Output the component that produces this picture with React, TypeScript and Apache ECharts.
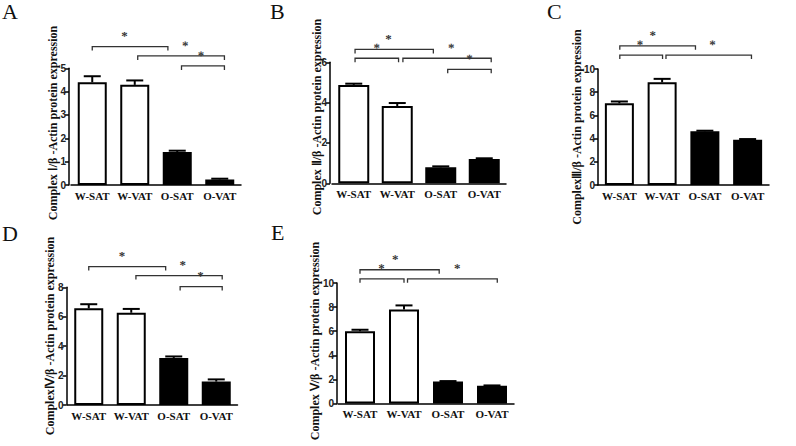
import React, { useEffect, useRef } from "react";
import * as echarts from "echarts";

const CATS = ["W-SAT", "W-VAT", "O-SAT", "O-VAT"];
const FILLS = ["#ffffff", "#ffffff", "#000000", "#000000"];

const A_MEAN = [4.4, 4.29, 1.41, 0.24];
const A_ERR = [4.66, 4.48, 1.47, 0.27];
const B_MEAN = [4.88, 3.83, 0.79, 1.21];
const B_ERR = [4.94, 3.98, 0.84, 1.24];
const C_MEAN = [7.04, 8.85, 4.63, 3.91];
const C_ERR = [7.2, 9.15, 4.68, 3.96];
const D_MEAN = [6.57, 6.27, 3.2, 1.59];
const D_ERR = [6.85, 6.53, 3.3, 1.74];
const E_MEAN = [6.0, 7.8, 1.82, 1.47];
const E_ERR = [6.12, 8.14, 1.86, 1.5];

// brackets: [fromCat, toCat, level, starCat]
const A_BR = [[0, 1.78, 5.93, 0.76], [1.07, 3.11, 5.53, 2.19], [2.1, 3.11, 5.1, 2.56]];
const B_BR = [[0.03, 1.83, 6.64, 0.8], [0.03, 1.03, 6.2, 0.53], [1.13, 3.16, 6.2, 2.24], [2.16, 3.16, 5.65, 2.66]];
const C_BR = [[0.01, 1.78, 12.0, 0.78], [0.01, 1.01, 11.2, 0.48], [1.09, 3.09, 11.2, 2.18]];
const D_BR = [[0, 1.81, 9.41, 0.78], [1.11, 3.14, 8.8, 2.21], [2.15, 3.14, 8.05, 2.63]];
const E_BR = [[0, 1.8, 11.1, 0.8], [0, 1.0, 10.35, 0.49], [1.08, 3.12, 10.35, 2.21]];

const Y_MAX = [5, 6, 10, 8, 10];
const Y_STEP = [1, 2, 2, 2, 2];
const LETTERS = ["A", "B", "C", "D", "E"];
const TITLES = [
  "Complex \u2160/\u03b2 -Actin protein expression",
  "Complex \u2161/\u03b2 -Actin protein expression",
  "Complex\u2162/\u03b2 -Actin protein expression",
  "Complex\u2163/\u03b2 -Actin protein expression",
  "Complex \u2164/\u03b2 -Actin protein expression",
];

const PANELS = [
  { mean: A_MEAN, err: A_ERR, br: A_BR, grid: { left: 71, top: 68.3, width: 170, height: 116.7 }, bw: 29, off: 2, letter: [2, 0], title: [53, 123] },
  { mean: B_MEAN, err: B_ERR, br: B_BR, grid: { left: 332, top: 62.3, width: 174, height: 121 }, bw: 31, off: 2, letter: [270, 0], title: [317, 117] },
  { mean: C_MEAN, err: C_ERR, br: C_BR, grid: { left: 598, top: 69, width: 171, height: 116 }, bw: 29, off: 0, letter: [547, 0], title: [577, 127] },
  { mean: D_MEAN, err: D_ERR, br: D_BR, grid: { left: 67.5, top: 287.3, width: 170, height: 117.7 }, bw: 29, off: 1, letter: [2, 222], title: [50, 336] },
  { mean: E_MEAN, err: E_ERR, br: E_BR, grid: { left: 338, top: 283, width: 176, height: 120.5 }, bw: 30, off: 1, letter: [271, 221], title: [315, 341] },
];

function buildOption() {
  const grid: any[] = [];
  const xAxis: any[] = [];
  const yAxis: any[] = [];
  const series: any[] = [];
  const graphic: any[] = [];

  PANELS.forEach((p, i) => {
    grid.push({ ...p.grid });
    xAxis.push({
      type: "category",
      gridIndex: i,
      data: CATS,
      axisLine: { lineStyle: { color: "#000", width: 1.5 } },
      axisTick: { show: false },
      axisLabel: {
        interval: 0,
        fontFamily: "Liberation Serif",
        fontWeight: "bold",
        fontSize: 11,
        color: "#111",
        margin: 5,
      },
    });
    yAxis.push({
      type: "value",
      gridIndex: i,
      min: 0,
      max: Y_MAX[i],
      interval: Y_STEP[i],
      offset: p.off,
      axisLine: { show: true, lineStyle: { color: "#000", width: 1.5 } },
      axisTick: { show: true, length: 4, lineStyle: { color: "#000", width: 1.5 } },
      splitLine: { show: false },
      axisLabel: {
        fontFamily: "Liberation Sans",
        fontWeight: "bold",
        fontSize: 10,
        color: "#222",
        margin: 3,
      },
    });
    series.push({
      type: "bar",
      xAxisIndex: i,
      yAxisIndex: i,
      barWidth: p.bw,
      data: p.mean.map((v, j) => ({
        value: v,
        itemStyle: { color: FILLS[j], borderColor: "#000", borderWidth: 2 },
      })),
      z: 2,
    });
    series.push({
      type: "custom",
      xAxisIndex: i,
      yAxisIndex: i,
      z: 3,
      itemStyle: { color: "#000" },
      data: p.mean.map((m, j) => [j, m, p.err[j]]),
      renderItem: (params: any, api: any) => {
        const a = api.coord([api.value(0), api.value(1)]);
        const b = api.coord([api.value(0), api.value(2)]);
        const hw = 8.5;
        return {
          type: "group",
          children: [
            { type: "line", shape: { x1: a[0], y1: a[1], x2: b[0], y2: b[1] }, style: { stroke: "#000", lineWidth: 2 } },
            { type: "line", shape: { x1: b[0] - hw, y1: b[1], x2: b[0] + hw, y2: b[1] }, style: { stroke: "#000", lineWidth: 2 } },
          ],
        };
      },
    });
    const br = p.br;
    series.push({
      type: "custom",
      xAxisIndex: i,
      yAxisIndex: i,
      z: 4,
      clip: false,
      itemStyle: { color: "#333" },
      data: br.map((b) => [0, b[2]]),
      renderItem: (params: any, api: any) => {
        const b = br[params.dataIndex];
        const x0 = api.coord([0, 0])[0];
        const bw = api.size([1, 0])[0];
        const xa = x0 + b[0] * bw;
        const xb = x0 + b[1] * bw;
        const xs = x0 + b[3] * bw;
        const y = api.coord([0, b[2]])[1];
        return {
          type: "group",
          children: [
            {
              type: "polyline",
              shape: { points: [[xa, y + 4], [xa, y], [xb, y], [xb, y + 4]] },
              style: { stroke: "#333", lineWidth: 1.3, fill: null },
            },
            {
              type: "text",
              x: xs,
              y: y - 4,
              rotation: 0.002,
              style: {
                text: "*",
                x: 0,
                y: 0,
                align: "center",
                verticalAlign: "bottom",
                font: 'bold 13px "Liberation Serif"',
                fill: "#333",
              },
            },
          ],
        };
      },
    });
    graphic.push({
      type: "text",
      x: p.letter[0],
      y: p.letter[1],
      style: { text: LETTERS[i], font: '22px "Liberation Serif"', fill: "#111", verticalAlign: "top" },
    });
    graphic.push({
      type: "text",
      x: p.title[0],
      y: p.title[1],
      rotation: Math.PI / 2,
      style: {
        text: TITLES[i],
        x: 0,
        y: 0,
        align: "center",
        verticalAlign: "middle",
        font: 'bold 12px "Liberation Serif"',
        fill: "#111",
      },
    });
  });

  return { animation: false, backgroundColor: "#fff", grid, xAxis, yAxis, series, graphic };
}

export default function App() {
  const ref = useRef<HTMLDivElement>(null);
  useEffect(() => {
    if (!ref.current) return;
    const chart = echarts.init(ref.current, null, { renderer: "svg" });
    chart.setOption(buildOption() as any);
    return () => chart.dispose();
  }, []);
  return (
    <div
      ref={ref}
      style={{ position: "fixed", left: 0, top: 0, width: 796, height: 446, background: "#fff" }}
    />
  );
}
